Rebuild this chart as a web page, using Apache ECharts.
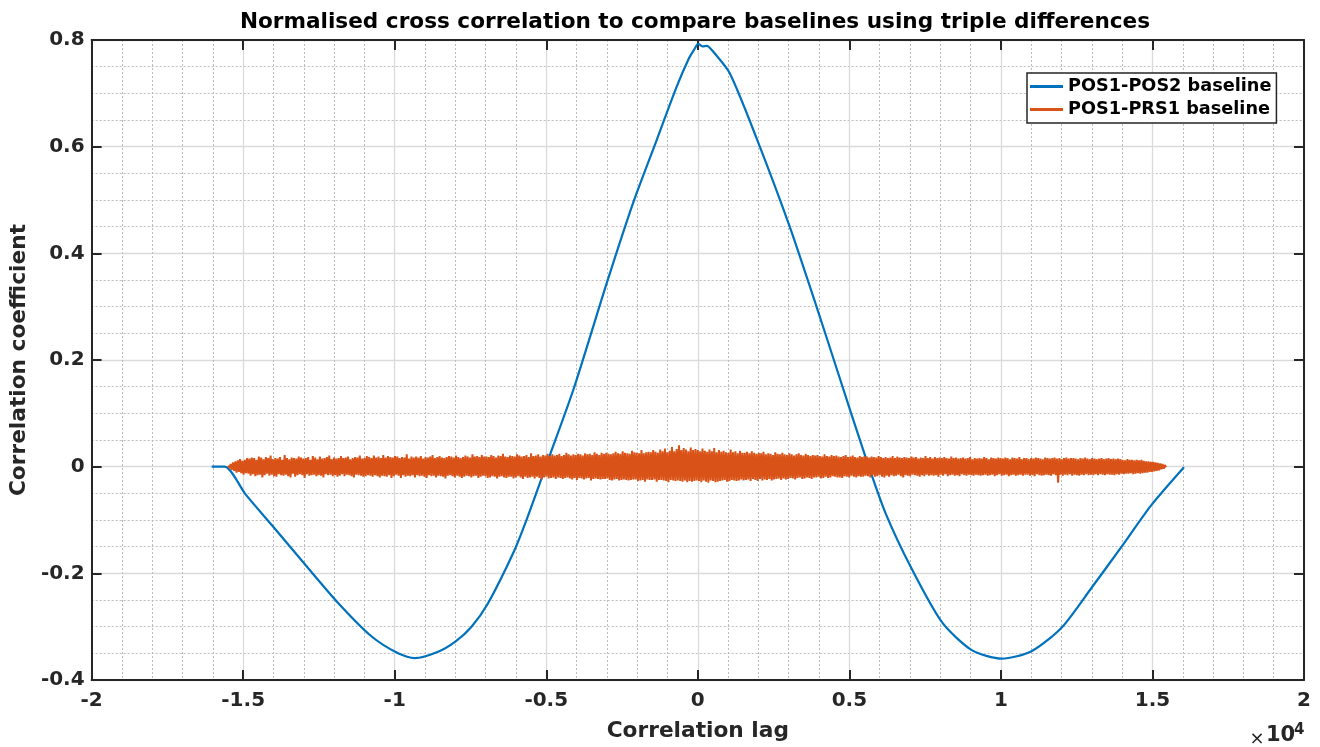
<!DOCTYPE html>
<html>
<head>
<meta charset="utf-8">
<script src="https://cdn.jsdelivr.net/npm/echarts@6/dist/echarts.min.js"></script>
<style>
html,body{margin:0;padding:0;background:#fff;}
#chart{width:1320px;height:747px;}
</style>
</head>
<body>
<div id="chart"></div>
<script>
// ---- Data (lag in units of 1e4) ----
const titleText = 'Normalised cross correlation to compare baselines using triple differences';
const xAxisName = 'Correlation lag';
const yAxisName = 'Correlation coefficient';
const seriesNames = ['POS1-POS2 baseline', 'POS1-PRS1 baseline'];

const blueLag = [-1.604, -1.561, -1.492, -1.405, -1.295, -1.186, -1.077, -0.989, -0.934, -0.857,
  -0.800, -0.748, -0.694, -0.606, -0.562, -0.508, -0.491, -0.409, -0.300, -0.212, -0.136,
  -0.070, -0.030, -0.010, 0.001, 0.015, 0.030, 0.051, 0.105, 0.193, 0.302,
  0.390, 0.466, 0.554, 0.620, 0.707, 0.806, 0.904, 1.003, 1.101, 1.200,
  1.298, 1.397, 1.495, 1.604];
const blueCoef = [0, 0, -0.052, -0.110, -0.184, -0.256, -0.318, -0.350, -0.359, -0.347,
  -0.328, -0.301, -0.258, -0.158, -0.095, -0.010, 0.017, 0.147, 0.345, 0.497, 0.612,
  0.712, 0.765, 0.784, 0.793, 0.788, 0.789, 0.778, 0.738, 0.617, 0.452,
  0.303, 0.170, 0.017, -0.088, -0.193, -0.292, -0.344, -0.360, -0.346, -0.302,
  -0.228, -0.151, -0.073, -0.001];

// orange: sample lags span this range, one value per sample (values in 1e-3)
const orangeLagFirst = -1.549;
const orangeLagLast = 1.545;
const orangeMilli = [
  2,-3,5,-6,8,-8,10,-11,12,-10,14,-12,11,-15,13,-12,16,-13,15,-17,
  17,-14,16,-18,13,-16,19,-15,17,-20,14,-16,18,-13,16,-17,21,-15,14,-18,
  16,-19,15,-14,18,-16,13,-17,22,-15,16,-18,14,-20,17,-13,16,-19,15,-16,
  19,-14,17,-16,15,-21,16,-14,18,-17,13,-16,20,-15,17,-18,14,-16,19,-17,
  15,-20,16,-14,18,-16,21,-15,14,-18,17,-16,15,-19,16,-17,20,-14,16,-18,
  17,-15,19,-16,14,-18,16,-20,18,-15,17,-16,21,-17,15,-19,16,-18,20,-16,
  18,-17,16,-19,21,-16,17,-18,19,-20,16,-17,22,-18,17,-19,20,-16,18,-21,
  17,-18,20,-15,19,-17,16,-21,18,-16,17,-19,23,-17,15,-18,19,-16,17,-20,
  19,-16,17,-18,20,-17,15,-19,18,-21,17,-16,19,-18,22,-17,16,-20,18,-17,
  20,-18,17,-19,16,-22,18,-17,20,-16,19,-18,17,-20,21,-17,18,-19,16,-21,
  18,-19,21,-17,19,-18,17,-20,23,-18,19,-17,20,-21,18,-19,22,-17,19,-18,
  19,-21,18,-20,22,-18,20,-19,17,-22,21,-19,20,-18,24,-20,19,-21,18,-19,
  21,-19,20,-22,19,-20,23,-18,21,-20,19,-23,20,-19,22,-21,18,-20,25,-19,
  20,-22,21,-19,23,-21,19,-24,22,-20,21,-19,24,-22,20,-21,23,-20,21,-23,
  22,-20,24,-21,20,-23,22,-21,26,-20,23,-22,21,-24,23,-21,22,-25,24,-21,
  23,-22,21,-24,25,-22,23,-21,24,-26,22,-23,27,-22,24,-23,22,-24,26,-23,
  24,-23,26,-22,24,-25,23,-26,25,-24,28,-23,25,-26,24,-25,29,-24,26,-25,
  25,-26,24,-25,30,-24,27,-24,26,-27,25,-26,31,-25,25,-28,27,-24,28,-25,
  27,-25,31,-24,28,-28,26,-25,32,-25,29,-26,34,-27,27,-29,30,-25,37,-26,
  29,-27,33,-26,40,-27,31,-28,35,-26,32,-29,29,-27,36,-28,31,-27,33,-26,
  31,-27,29,-29,34,-26,30,-28,28,-30,32,-26,29,-27,35,-29,27,-28,31,-27,
  28,-26,30,-25,27,-28,26,-27,32,-25,27,-26,29,-27,25,-26,30,-24,26,-26,
  26,-25,28,-24,25,-27,29,-23,26,-25,24,-27,26,-23,25,-26,28,-24,23,-25,
  25,-23,24,-26,22,-24,27,-23,24,-22,23,-25,26,-22,23,-24,22,-23,25,-21,
  23,-22,21,-24,23,-21,25,-20,22,-23,21,-22,24,-20,22,-21,20,-23,22,-20,
  21,-20,22,-19,20,-22,19,-21,23,-19,20,-21,19,-20,22,-18,20,-19,21,-20,
  19,-20,18,-21,20,-18,22,-19,18,-20,19,-17,21,-19,18,-20,17,-18,20,-19,
  18,-19,20,-17,19,-18,17,-20,19,-16,18,-19,17,-18,20,-16,18,-19,16,-20,
  18,-17,16,-19,17,-16,20,-18,16,-17,19,-15,17,-18,16,-20,18,-16,17,-17,
  16,-18,19,-15,17,-16,18,-17,15,-19,17,-16,16,-18,20,-15,16,-17,18,-16,
  15,-17,18,-16,16,-19,17,-15,16,-17,18,-14,16,-18,15,-16,19,-15,16,-17,
  17,-16,15,-18,16,-14,17,-16,15,-17,16,-15,18,-16,14,-17,16,-15,15,-16,
  16,-17,15,-16,18,-15,16,-17,14,-16,17,-15,16,-18,15,-16,17,-14,16,-17,
  15,-16,17,-15,16,-18,14,-16,17,-15,16,-17,15,-16,18,-15,14,-17,16,-15,
  16,-15,14,-17,16,-16,15,-18,17,-14,16,-16,15,-17,14,-16,17,-15,16,-16,
  15,-17,16,-14,17,-16,15,-30,16,-15,14,-17,16,-15,17,-16,15,-14,16,-17,
  16,-15,15,-16,14,-17,16,-15,15,-16,17,-14,15,-16,14,-15,16,-16,15,-14,
  14,-16,15,-14,16,-15,14,-16,15,-14,16,-15,14,-15,15,-16,14,-14,15,-15,
  14,-13,13,-14,12,-13,14,-13,13,-12,13,-14,12,-13,13,-12,12,-13,13,-12,
  11,-11,10,-11,10,-10,9,-10,9,-9,8,-8,7,-7,6,-5,5,-4,3,-1
];

// Axis settings
const xMin = -2, xMax = 2, xStep = 0.5;
const yMin = -0.4, yMax = 0.8, yStep = 0.2;

// ---- Build series data ----
const blueData = blueLag.map((x, i) => [x, blueCoef[i]]);
const nO = orangeMilli.length;
const orangeData = orangeMilli.map((v, i) => [
  orangeLagFirst + (orangeLagLast - orangeLagFirst) * i / (nO - 1), v / 1000]);

const FONT = 'DejaVu Sans';
const AX = '#262626';

const chart = echarts.init(document.getElementById('chart'), null, {renderer: 'canvas'});

const baseX = {
  type: 'value', min: xMin, max: xMax, interval: xStep,
  axisLine: {show: true, onZero: false, lineStyle: {color: AX, width: 2}},
  axisTick: {show: true, inside: true, length: 10, lineStyle: {color: AX, width: 2}},
  minorTick: {show: false, splitNumber: 5},
};
const baseY = {
  type: 'value', min: yMin, max: yMax, interval: yStep,
  axisLine: {show: true, onZero: false, lineStyle: {color: AX, width: 2}},
  axisTick: {show: true, inside: true, length: 10, lineStyle: {color: AX, width: 2}},
  minorTick: {show: false, splitNumber: 4},
};

const option = {
  animation: false,
  backgroundColor: '#ffffff',
  grid: {left: 85, right: 16, top: 40, bottom: 60, containLabel: false},
  xAxis: [
    Object.assign({}, baseX, {
      position: 'bottom',
      name: xAxisName, nameLocation: 'middle', nameGap: 40,
      nameTextStyle: {fontFamily: FONT, fontSize: 21.7, fontWeight: 'bold', color: AX},
      axisLabel: {fontFamily: FONT, fontSize: 20, fontWeight: 'bold', color: AX, margin: 11},
      splitLine: {show: true, lineStyle: {color: '#dadada', width: 1.3}},
      minorSplitLine: {show: true, lineStyle: {color: '#bcbcbc', width: 1, type: [2, 2]}}
    }),
    Object.assign({}, baseX, {
      position: 'top',
      axisLabel: {show: false},
      splitLine: {show: false}
    })
  ],
  yAxis: [
    Object.assign({}, baseY, {
      position: 'left',
      name: yAxisName, nameLocation: 'middle', nameGap: 53, nameRotate: 90,
      nameTextStyle: {fontFamily: FONT, fontSize: 21.7, fontWeight: 'bold', color: AX},
      axisLabel: {fontFamily: FONT, fontSize: 20, fontWeight: 'bold', color: AX, margin: 7},
      splitLine: {show: true, lineStyle: {color: '#dadada', width: 1.3}},
      minorSplitLine: {show: true, lineStyle: {color: '#bcbcbc', width: 1, type: [2, 2]}}
    }),
    Object.assign({}, baseY, {
      position: 'right',
      axisLabel: {show: false},
      splitLine: {show: false}
    })
  ],
  legend: {
    orient: 'vertical',
    left: 1027, top: 73,
    padding: [3, 5, 3, 3],
    itemGap: 2,
    itemWidth: 33, itemHeight: 3,
    icon: 'rect',
    backgroundColor: '#ffffff',
    borderColor: AX, borderWidth: 1.5, borderRadius: 0,
    textStyle: {fontFamily: FONT, fontSize: 17.7, fontWeight: 'bold', color: '#000', lineHeight: 21},
    data: seriesNames
  },
  graphic: [
    {type: 'text', z: 100, style: {text: titleText, x: 695, y: 22, textAlign: 'center', textVerticalAlign: 'middle',
      font: 'bold 21.6px "DejaVu Sans"', fill: '#000'}},
    {type: 'text', z: 100, style: {text: '\u00d7', x: 1257, y: 739, textAlign: 'center', textVerticalAlign: 'middle',
      font: '18px "DejaVu Sans"', fill: AX}},
    {type: 'text', z: 100, style: {text: '10', x: 1266, y: 736, textAlign: 'left', textVerticalAlign: 'middle',
      font: 'bold 21px "DejaVu Sans"', fill: AX}},
    {type: 'text', z: 100, style: {text: '4', x: 1294, y: 730, textAlign: 'left', textVerticalAlign: 'middle',
      font: 'bold 15px "DejaVu Sans"', fill: AX}}
  ],
  series: [
    {
      name: seriesNames[0], type: 'line', data: blueData,
      xAxisIndex: 0, yAxisIndex: 0,
      showSymbol: false, symbol: 'none', smooth: 0.25,
      lineStyle: {color: '#0072BD', width: 2.2}, itemStyle: {color: '#0072BD'},
      z: 3
    },
    {
      name: seriesNames[1], type: 'line', data: orangeData,
      xAxisIndex: 0, yAxisIndex: 0,
      showSymbol: false, symbol: 'none', sampling: false,
      lineStyle: {color: '#D95319', width: 2, join: 'bevel'}, itemStyle: {color: '#D95319'},
      z: 4
    }
  ]
};
chart.setOption(option);
</script>
</body>
</html>
